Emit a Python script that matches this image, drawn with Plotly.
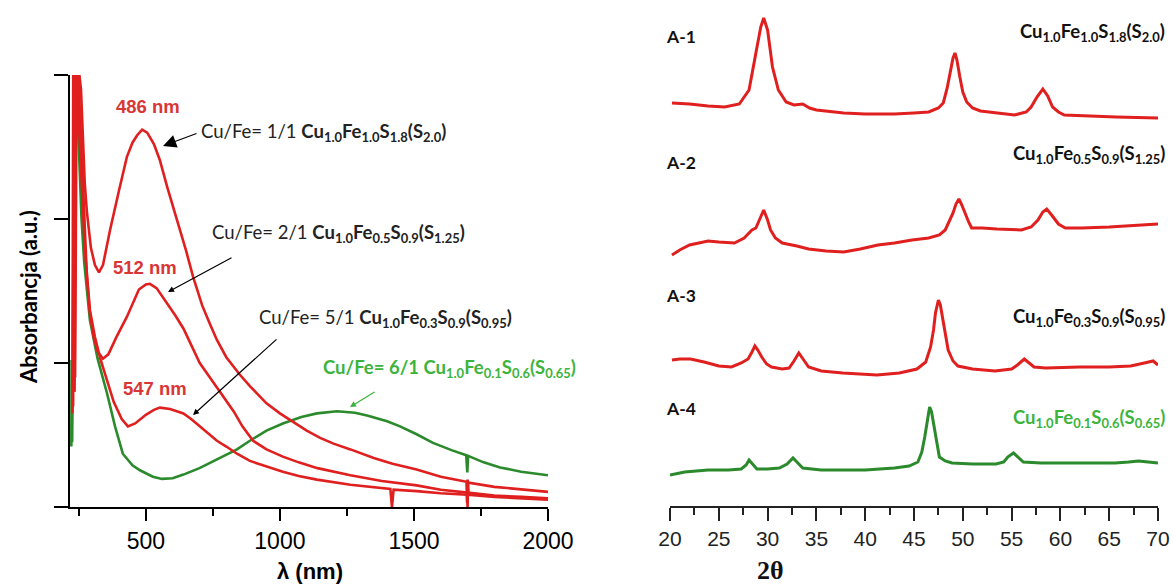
import plotly.graph_objects as go

W, H = 1173, 586

# ---------------- UV-Vis-NIR data (left panel) ----------------
wl_11 = [228, 231, 234, 240, 246, 252, 258, 265, 272, 280, 295, 310, 325, 340, 366, 400, 429, 450, 467, 486,
         505, 530, 552, 580, 616, 650, 676, 710, 739, 765, 800, 850, 888, 950, 1000, 1048, 1100, 1150, 1200,
         1263, 1350, 1420, 1510, 1600, 1696, 1698, 1700, 1702, 1800, 1900, 2000]
abs_11 = [0.70, 3.0, 0.80, 3.0, 3.0, 3.0, 2.9, 2.6, 2.25, 2.05, 1.80, 1.68, 1.63, 1.68, 1.92, 2.20, 2.43, 2.53, 2.58, 2.62,
          2.60, 2.52, 2.41, 2.22, 2.00, 1.78, 1.60, 1.40, 1.27, 1.16, 1.04, 0.92, 0.84, 0.72, 0.65, 0.59, 0.53, 0.48, 0.44,
          0.40, 0.34, 0.30, 0.26, 0.21, 0.175, 0.03, 0.19, 0.17, 0.14, 0.12, 0.105]

wl_21 = [228, 232, 236, 242, 248, 255, 262, 270, 280, 291, 305, 320, 340, 360, 390, 429, 474, 500, 515, 540,
         578, 610, 640, 670, 701, 735, 765, 800, 829, 860, 900, 950, 1011, 1070, 1140, 1263, 1380, 1510, 1600,
         1700, 1800, 1900, 2000]
abs_21 = [0.70, 3.0, 0.90, 3.0, 3.0, 2.7, 2.3, 1.95, 1.60, 1.35, 1.18, 1.08, 1.03, 1.06, 1.18, 1.32, 1.51, 1.545, 1.55, 1.52,
          1.42, 1.33, 1.24, 1.12, 1.00, 0.91, 0.83, 0.74, 0.66, 0.56, 0.46, 0.40, 0.35, 0.31, 0.27, 0.22, 0.18, 0.15, 0.12,
          0.10, 0.08, 0.07, 0.06]

wl_51 = [226, 229, 232, 237, 244, 252, 262, 272, 291, 310, 330, 355, 380, 410, 433, 460, 500, 530, 552, 590,
         640, 670, 701, 735, 765, 800, 840, 888, 950, 1011, 1070, 1138, 1263, 1386, 1412, 1418, 1424, 1510, 1600,
         1698, 1700, 1702, 1704, 1800, 1900, 2000]
abs_51 = [0.65, 3.0, 0.80, 3.0, 2.9, 2.6, 2.15, 1.80, 1.37, 1.18, 1.03, 0.88, 0.73, 0.61, 0.56, 0.58, 0.64, 0.675, 0.69, 0.68,
          0.65, 0.61, 0.56, 0.51, 0.46, 0.42, 0.37, 0.32, 0.28, 0.245, 0.215, 0.19, 0.155, 0.13, 0.125, 0.0, 0.12, 0.11, 0.095,
          0.085, 0.0, 0.16, 0.085, 0.07, 0.06, 0.05]

wl_61 = [222, 223, 225, 228, 232, 240, 250, 260, 270, 280, 291, 320, 355, 385, 414, 450, 478, 526, 560, 600,
         640, 700, 765, 840, 888, 950, 1011, 1080, 1138, 1213, 1280, 1325, 1400, 1448, 1510, 1571, 1640, 1695,
         1699, 1702, 1760, 1821, 1900, 2000]
abs_61 = [0.42, 1.02, 0.45, 1.0, 2.9, 2.9, 2.5, 2.0, 1.7, 1.5, 1.30, 1.03, 0.79, 0.56, 0.37, 0.29, 0.255, 0.21, 0.195, 0.20,
          0.225, 0.27, 0.33, 0.40, 0.46, 0.53, 0.58, 0.625, 0.65, 0.665, 0.655, 0.635, 0.595, 0.56, 0.505, 0.445, 0.395, 0.36,
          0.24, 0.355, 0.31, 0.275, 0.245, 0.22]

uv_ticks = [500, 1000, 1500, 2000]

# ---------------- XRD data (right panel, stacked intensities) ----------------
tt_a1 = [20.2, 22.0, 23.9, 25.6, 27.1, 28.1, 28.8, 29.3, 29.6, 30.0, 30.5, 31.1, 31.9, 32.7, 33.6, 34.3, 35.0, 37.8,
         40.0, 43.0, 45.0, 46.5, 47.5, 48.0, 48.4, 48.7, 49.0, 49.2, 49.4, 49.7, 50.0, 50.4, 51.0, 51.8, 55.3, 56.5,
         57.0, 57.6, 58.2, 58.7, 59.2, 59.8, 60.4, 65.7, 70.0]
int_a1 = [403, 402, 400, 399, 402, 416, 453, 479, 488, 476, 439, 416, 404, 401, 402, 398, 396, 393,
          392, 392, 393, 394, 398, 403, 418, 433, 448, 453, 446, 429, 414, 404, 398, 395, 391, 394,
          399, 409, 417, 410, 399, 394, 391, 389, 388]

tt_a2 = [20.2, 21.0, 22.0, 23.9, 25.0, 26.6, 27.6, 28.4, 28.8, 29.2, 29.6, 30.0, 30.3, 30.8, 31.5, 33.0, 34.2, 36.0,
         37.8, 39.5, 41.3, 43.0, 44.8, 46.5, 47.6, 48.2, 48.7, 49.0, 49.3, 49.6, 49.9, 50.2, 50.6, 50.9, 52.0, 53.5,
         55.0, 56.0, 57.0, 57.7, 58.2, 58.6, 59.1, 59.8, 60.5, 62.2, 65.0, 68.0, 70.0]
int_a2 = [251, 256, 261, 265, 264, 263, 268, 276, 278, 288, 296, 286, 276, 268, 263, 260, 257, 255,
          254, 257, 261, 263, 266, 268, 271, 276, 286, 293, 302, 307, 301, 293, 284, 278, 278, 277,
          276, 276, 279, 286, 294, 297, 291, 282, 278, 278, 279, 281, 282]

tt_a3 = [20.2, 21.0, 22.1, 23.5, 25.0, 26.3, 27.3, 28.0, 28.4, 28.7, 29.0, 29.4, 29.9, 30.4, 31.5, 32.2, 32.7, 33.2,
         33.7, 34.2, 35.5, 37.7, 41.2, 43.5, 45.3, 46.2, 46.7, 47.0, 47.2, 47.5, 47.7, 47.9, 48.2, 48.5, 49.0, 49.5,
         51.0, 53.3, 55.0, 55.6, 56.3, 56.8, 57.3, 58.5, 62.0, 65.0, 67.2, 68.6, 69.5, 70.0]
int_a3 = [146, 147, 147, 144, 140, 139, 143, 147, 154, 160, 156, 149, 142, 139, 137, 138, 145, 153,
          146, 139, 135, 133, 131, 133, 137, 144, 159, 176, 193, 206, 201, 189, 171, 156, 145, 140,
          137, 135, 137, 141, 147, 143, 139, 138, 139, 139, 140, 143, 145, 141]

tt_a4 = [20.0, 21.5, 23.9, 26.0, 27.3, 27.8, 28.1, 28.5, 28.9, 30.0, 31.2, 32.0, 32.6, 33.1, 33.6, 35.5, 37.8, 40.0,
         43.0, 44.5, 45.4, 45.8, 46.1, 46.4, 46.6, 46.8, 47.1, 47.4, 47.6, 48.2, 48.9, 51.0, 53.4, 54.2, 54.6, 55.2,
         55.7, 56.2, 58.0, 60.4, 63.0, 65.6, 67.0, 68.0, 69.0, 70.0]
int_a4 = [31, 34, 36, 36, 37, 41, 46, 42, 37, 37, 38, 42, 48, 43, 38, 36, 36, 36,
          38, 40, 44, 54, 69, 88, 99, 94, 76, 58, 49, 45, 43, 42, 42, 44, 49, 53,
          48, 44, 43, 43, 43, 43, 44, 45, 44, 43]

xrd_ticks = [20, 25, 30, 35, 40, 45, 50, 55, 60, 65, 70]

RED = "#e01f1f"
RED_T = "#d93636"
GREEN = "#2b8a2b"
GREEN_T = "#3cb43c"

fig = go.Figure()
for wl, ab, col in [(wl_61, abs_61, GREEN), (wl_11, abs_11, RED), (wl_21, abs_21, RED), (wl_51, abs_51, RED)]:
    fig.add_trace(go.Scatter(x=wl, y=ab, mode="lines", line=dict(color=col, width=2.6),
                             xaxis="x", yaxis="y", showlegend=False, hoverinfo="skip"))
for tt, it, col in [(tt_a1, int_a1, RED), (tt_a2, int_a2, RED), (tt_a3, int_a3, RED), (tt_a4, int_a4, GREEN)]:
    fig.add_trace(go.Scatter(x=tt, y=it, mode="lines", line=dict(color=col, width=3),
                             xaxis="x2", yaxis="y2", showlegend=False, hoverinfo="skip"))

def px(x):
    return x / W

def py(y):
    return 1 - y / H

fig.update_layout(
    width=W, height=H, autosize=False,
    margin=dict(l=0, r=0, t=0, b=0),
    paper_bgcolor="white", plot_bgcolor="white",
    font=dict(family="Liberation Sans, Arial", color="black"),
    xaxis=dict(domain=[px(70), px(548)], range=[217, 2000], tickvals=uv_ticks, automargin=False,
               ticks="outside", ticklen=12, tickwidth=1.5, tickcolor="black",
               minor=dict(dtick=250, tick0=0, ticks="outside", ticklen=7, tickwidth=1.5, tickcolor="black"),
               showline=True, linecolor="black", linewidth=2, showgrid=False, zeroline=False,
               tickfont=dict(size=23, family="Liberation Sans, Arial"), anchor="y"),
    yaxis=dict(domain=[py(507), py(75)], range=[0, 3.0], tickvals=[0, 1, 2, 3], showticklabels=False,
               automargin=False,
               ticks="outside", ticklen=14, tickwidth=1.5, tickcolor="black",
               showline=True, linecolor="black", linewidth=2, showgrid=False, zeroline=False, anchor="x"),
    xaxis2=dict(domain=[px(670), px(1158)], range=[20, 70], tickvals=xrd_ticks, automargin=False,
                ticks="outside", ticklen=13, tickwidth=1.5, tickcolor="#222",
                minor=dict(dtick=2.5, tick0=20, ticks="outside", ticklen=7, tickwidth=1.5, tickcolor="#222"),
                showline=True, linecolor="#222", linewidth=1.5, showgrid=False, zeroline=False,
                tickfont=dict(size=21, family="Liberation Sans, Arial", color="#222"), anchor="y2"),
    yaxis2=dict(domain=[py(506), py(2)], range=[0, 504], visible=False, anchor="x2", automargin=False),
)

ann = []
# axis titles
ann.append(dict(text="<b>Absorbancja (a.u.)</b>", x=px(28), y=py(297), xref="paper", yref="paper",
                showarrow=False, textangle=-90, xanchor="center", yanchor="middle",
                font=dict(size=22, color="black", family="Lato, Noto Sans")))
ann.append(dict(text="<b>λ (nm)</b>", x=px(310), y=py(571), xref="paper", yref="paper",
                showarrow=False, xanchor="center", yanchor="middle",
                font=dict(size=22, color="black", family="Liberation Sans, Arial")))
ann.append(dict(text="<b>2θ</b>", x=px(770), y=py(570), xref="paper", yref="paper",
                showarrow=False, xanchor="center", yanchor="middle",
                font=dict(size=26, color="#111", family="Liberation Serif, Times New Roman")))

for txt, x, y in [("486 nm", 148, 107), ("512 nm", 145, 267), ("547 nm", 155, 388)]:
    ann.append(dict(text="<b>%s</b>" % txt, x=px(x), y=py(y), xref="paper", yref="paper",
                    showarrow=False, xanchor="center", yanchor="middle",
                    font=dict(size=18.5, color=RED_T, family="Liberation Sans, Arial")))

LBL = "Lato, Noto Sans"
LS = 18.5
ann.append(dict(text="Cu/Fe= 1/1 <b>Cu<sub>1.0</sub>Fe<sub>1.0</sub>S<sub>1.8</sub>(S<sub>2.0</sub>)</b>",
                x=px(199), y=py(133), xref="paper", yref="paper", showarrow=False, xanchor="left",
                yanchor="middle", font=dict(size=LS, color="#222", family=LBL)))
ann.append(dict(text="Cu/Fe= 2/1 <b>Cu<sub>1.0</sub>Fe<sub>0.5</sub>S<sub>0.9</sub>(S<sub>1.25</sub>)</b>",
                x=px(210), y=py(234), xref="paper", yref="paper", showarrow=False, xanchor="left",
                yanchor="middle", font=dict(size=LS, color="#222", family=LBL)))
ann.append(dict(text="Cu/Fe= 5/1 <b>Cu<sub>1.0</sub>Fe<sub>0.3</sub>S<sub>0.9</sub>(S<sub>0.95</sub>)</b>",
                x=px(257), y=py(318), xref="paper", yref="paper", showarrow=False, xanchor="left",
                yanchor="middle", font=dict(size=LS, color="#222", family=LBL)))
ann.append(dict(text="<b>Cu/Fe= 6/1 Cu<sub>1.0</sub>Fe<sub>0.1</sub>S<sub>0.6</sub>(S<sub>0.65</sub>)</b>",
                x=px(321), y=py(368), xref="paper", yref="paper", showarrow=False, xanchor="left",
                yanchor="middle", font=dict(size=LS, color=GREEN_T, family=LBL)))

# arrows: head (hx, hy), tail (tx, ty) in page pixels
for (hx, hy, tx, ty, col, size, w) in [
        (163, 146, 198, 133, "black", 2.2, 1.2),
        (168, 292, 233, 257, "black", 1.0, 1.2),
        (193, 415, 278, 338, "black", 1.0, 1.2),
        (350, 407, 376, 391, GREEN_T, 1.0, 1.2)]:
    ann.append(dict(text="", x=px(hx), y=py(hy), ax=tx - hx, ay=ty - hy, xref="paper", yref="paper",
                    axref="pixel", ayref="pixel", showarrow=True, arrowhead=2, arrowsize=size,
                    arrowwidth=w, arrowcolor=col))

for txt, x, y in [("A-1", 664, 37), ("A-2", 664, 162), ("A-3", 664, 295), ("A-4", 664, 408)]:
    ann.append(dict(text="<b>%s</b>" % txt, x=px(x), y=py(y), xref="paper", yref="paper",
                    showarrow=False, xanchor="left", yanchor="middle",
                    font=dict(size=17.5, color="#111", family=LBL)))
for txt, y, col in [
        ("Cu<sub>1.0</sub>Fe<sub>1.0</sub>S<sub>1.8</sub>(S<sub>2.0</sub>)", 33, "#111"),
        ("Cu<sub>1.0</sub>Fe<sub>0.5</sub>S<sub>0.9</sub>(S<sub>1.25</sub>)", 154, "#111"),
        ("Cu<sub>1.0</sub>Fe<sub>0.3</sub>S<sub>0.9</sub>(S<sub>0.95</sub>)", 317, "#111"),
        ("Cu<sub>1.0</sub>Fe<sub>0.1</sub>S<sub>0.6</sub>(S<sub>0.65</sub>)", 418, GREEN_T)]:
    ann.append(dict(text="<b>%s</b>" % txt, x=px(1167), y=py(y), xref="paper", yref="paper",
                    showarrow=False, xanchor="right", yanchor="middle",
                    font=dict(size=18.5, color=col, family=LBL)))

fig.update_layout(annotations=ann)
fig.write_html("out.html", config={"displayModeBar": False},
               post_script="document.body.style.margin='0px';document.body.style.overflow='hidden';")
